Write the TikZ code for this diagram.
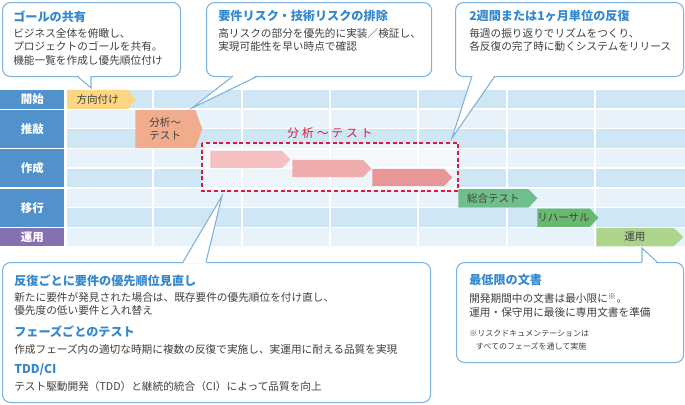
\documentclass[tikz,border=0pt]{standalone}
\usepackage{fontspec}
\setmainfont{Noto Sans CJK JP}
\newfontfamily\spacedjp[LetterSpace=25]{Noto Sans CJK JP}
\usepackage{tikz}
\usetikzlibrary{shapes.symbols, calc, positioning}
\definecolor{RowDark}{RGB}{207,230,244}
\definecolor{RowLight}{RGB}{231,242,250}
\definecolor{LabBlue}{RGB}{82,146,204}
\definecolor{LabPurple}{RGB}{133,112,178}
\definecolor{BarYellow}{RGB}{252,214,130}
\definecolor{BarOrange}{RGB}{240,172,140}
\definecolor{PinkA}{RGB}{245,192,192}
\definecolor{PinkB}{RGB}{239,172,172}
\definecolor{PinkC}{RGB}{232,150,150}
\definecolor{GreenA}{RGB}{112,190,140}
\definecolor{GreenB}{RGB}{104,184,112}
\definecolor{GreenC}{RGB}{172,212,140}
\definecolor{CallLine}{RGB}{125,178,222}
\definecolor{TitleBlue}{RGB}{52,136,206}
\definecolor{BodyGray}{RGB}{64,64,64}
\definecolor{DashRed}{RGB}{214,28,64}
% callout tail: base start, tip, base end, shift into the box
\newcommand{\calltail}[4]{%
	\fill[white] ($#1+(0,#4)$) -- #2 -- ($#3+(0,#4)$) -- cycle;
	\draw[tailline] #1 -- #2 -- #3;}

\begin{document}
\begin{tikzpicture}[x=0.75pt, y=-0.75pt,
	lab/.style={anchor=north west, inner sep=0pt, minimum width=48pt, text=white,
		font=\fontsize{8.6}{10}\selectfont\bfseries},
	bar/.style={shape=signal, signal to=east, anchor=west, inner sep=0pt, text=BodyGray,
		font=\fontsize{7.9}{9.6}\selectfont},
	callout/.style={anchor=north west, draw=CallLine, line width=0.8pt, fill=white,
		rounded corners=6pt, inner sep=0pt},
	tailline/.style={draw=CallLine, line width=0.8pt},
	ttl/.style={anchor=north west, inner sep=0pt, text=TitleBlue,
		font=\fontsize{9.1}{11}\selectfont\bfseries},
	txt/.style={anchor=north west, inner sep=0pt, align=left, text=BodyGray,
		font=\fontsize{8}{10.2}\selectfont}]
	\useasboundingbox (0,0) rectangle (685,404);
	% grid
	\foreach \i in {0,...,7}{
		\pgfmathsetmacro\yt{90+19.7*\i}
		\ifodd\i\def\rc{RowLight}\else\def\rc{RowDark}\fi
		\fill[\rc] (67,\yt) rectangle (685,\yt+18.3);
	}
	\foreach \x in {153,242,330,418,507,595}
		\fill[white] (\x-0.8,90) rectangle (\x+0.8,247);
	% phases
	\node[lab, fill=LabBlue, minimum height=13.7pt] (kaishi) at (0,90) {開始};
	\node[lab, fill=LabBlue, minimum height=28.5pt] (suikou) at (0,109.7) {推敲};
	\node[lab, fill=LabBlue, minimum height=28.5pt] (sakusei) at (0,149.1) {作成};
	\node[lab, fill=LabBlue, minimum height=28.5pt] (ikou) at (0,188.5) {移行};
	\node[lab, fill=LabPurple, minimum height=13.7pt] (unyou) at (0,227.9) {運用};
	% dashed iteration box
	\fill[white, opacity=0.6] (202,143) rectangle (458,191);
	\node[text=DashRed, font=\fontsize{8.8}{10}\selectfont\spacedjp] (iterlab) at (330,133) {分析～テスト};
	% bars
	\node[bar, fill=BarYellow, minimum width=51pt, minimum height=14.3pt, signal pointer angle=107] (houkou) at (67,99.5) {方向付け};
	\node[bar, fill=BarOrange, minimum width=50.3pt, minimum height=28.5pt, signal pointer angle=139, align=left] (bunseki) at (135,129) {分析〜\\テスト};
	\node[bar, fill=PinkA, minimum width=60pt, minimum height=12.8pt, signal pointer angle=93] (iter1) at (210,159.5) {};
	\node[bar, fill=PinkB, minimum width=59.3pt, minimum height=12.8pt, signal pointer angle=93] (iter2) at (292,168.5) {};
	\node[bar, fill=PinkC, minimum width=60pt, minimum height=12.8pt, signal pointer angle=93] (iter3) at (372,177.5) {};
	\node[bar, fill=GreenA, minimum width=59.3pt, minimum height=13.8pt, signal pointer angle=93] (sougou) at (458,198.3) {総合テスト};
	\node[bar, fill=GreenB, minimum width=42.8pt, minimum height=13.8pt, signal pointer angle=93] (rehearsal) at (537,217.7) {リハーサル};
	\node[bar, fill=GreenC, minimum width=65.3pt, minimum height=13.8pt, signal pointer angle=87] (unyoubar) at (596,237.1) {運用};
	\draw[DashRed, line width=1.1pt, dash pattern=on 3pt off 2pt] (202,143) rectangle (458,191);
	% callouts
	\node[callout, minimum width=133.5pt, minimum height=55.5pt] (goalbox) at (2,2) {};
	\coordinate (goaltip) at (91,88);
	\calltail{(77,76)}{(goaltip)}{(91,76)}{-1.4}
	\node[ttl] (goalttl) at (13,11) {ゴールの共有};
	\node[txt] (goaltxt) at (13,28) {ビジネス全体を俯瞰し、\\プロジェクトのゴールを共有。\\機能一覧を作成し優先順位付け};

	\node[callout, minimum width=168.8pt, minimum height=55.5pt] (riskbox) at (206,2) {};
	\coordinate (risktip) at (192,108);
	\calltail{(233,76)}{(risktip)}{(258,76)}{-1.4}
	\node[ttl] (riskttl) at (218,10) {要件リスク・技術リスクの排除};
	\node[txt] (risktxt) at (218,28) {高リスクの部分を優先的に実装／検証し、\\実現可能性を早い時点で確認};

	\node[callout, minimum width=171pt, minimum height=55.5pt] (iterbox) at (455,2) {};
	\coordinate (itertip) at (452,138);
	\calltail{(472,76)}{(itertip)}{(495,76)}{-1.4}
	\node[ttl] (iterttl) at (469,10) {2週間または1ヶ月単位の反復};
	\node[txt] (itertxt) at (469,28) {毎週の振り返りでリズムをつくり、\\各反復の完了時に動くシステムをリリース};

	\node[callout, minimum width=321pt, minimum height=105pt] (reqbox) at (2,262) {};
	\coordinate (reqtip) at (222,196);
	\calltail{(183,262)}{(reqtip)}{(206,262)}{1.4}
	\node[ttl] (reqttl) at (14,275) {反復ごとに要件の優先順位見直し};
	\node[txt] (reqtxt) at (14,292) {新たに要件が発見された場合は、既存要件の優先順位を付け直し、\\優先度の低い要件と入れ替え};
	\node[ttl] (testttl) at (14,326) {フェーズごとのテスト};
	\node[txt] (testtxt) at (14,344) {作成フェーズ内の適切な時期に複数の反復で実施し、実運用に耐える品質を実現};
	\node[ttl] (tddttl) at (14,363) {TDD/CI};
	\node[txt] (tddtxt) at (14,381) {テスト駆動開発（TDD）と継続的統合（CI）によって品質を向上};

	\node[callout, minimum width=170.3pt, minimum height=75pt] (docbox) at (456,262) {};
	\coordinate (doctip) at (642,248);
	\calltail{(642,262)}{(doctip)}{(657,262)}{1.4}
	\node[ttl] (docttl) at (469,274) {最低限の文書};
	\node[txt] (doctxt) at (469,293) {開発期間中の文書は最小限に\textsuperscript{※}。\\運用・保守用に最後に専用文書を準備};
	\node[txt, font=\fontsize{6}{9.8}\selectfont] (docnote) at (469,330) {※リスクドキュメンテーションは\\\hspace*{5pt}すべてのフェーズを通して実施};
\end{tikzpicture}
\end{document}
